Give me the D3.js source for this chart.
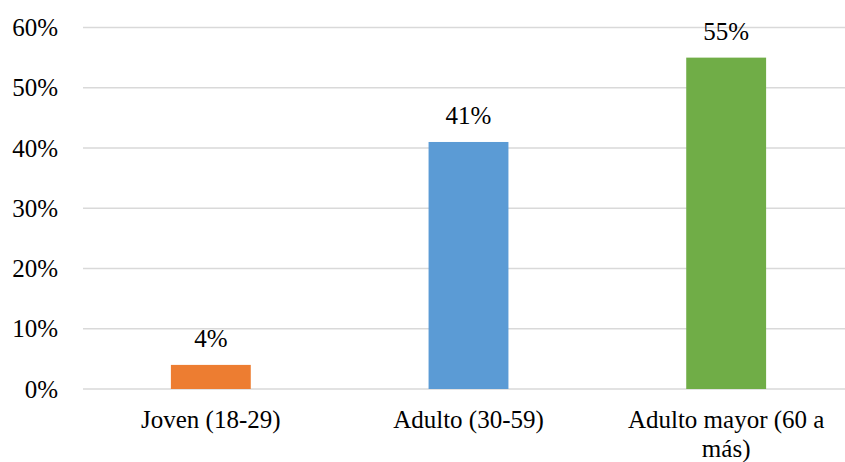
<!DOCTYPE html>
<html><head><meta charset="utf-8">
<script src="https://cdn.jsdelivr.net/npm/d3@7"></script>
</head><body style="margin:0">
<svg id="c" width="845" height="462"><style>.t{font-family:"Liberation Serif",Tinos,"Times New Roman",serif !important;font-size:25px;fill:#000}</style></svg>
<script>
const categories = ["Joven (18-29)", "Adulto (30-59)", "Adulto mayor (60 a más)"];
const values = [4, 41, 55];
const colors = ["#ED7D31", "#5B9BD5", "#70AD47"];
const yTicks = [0, 10, 20, 30, 40, 50, 60];

const svg = d3.select("#c");
const x = d3.scaleBand().domain(categories).range([82, 855]).paddingInner(0.69).paddingOuter(0.345);
const y = d3.scaleLinear().domain([0, 60]).range([389, 27.5]);

svg.append("g").selectAll("line").data(yTicks).join("line")
  .attr("x1", 83).attr("x2", 845)
  .attr("y1", d => y(d)).attr("y2", d => y(d))
  .attr("stroke", "#d9d9d9").attr("stroke-width", 1.5);

svg.append("g").selectAll("text").data(yTicks).join("text").attr("class", "t")
  .attr("x", 58).attr("y", d => y(d) + 8.5)
  .attr("text-anchor", "end").text(d => d + "%");

svg.append("g").selectAll("rect").data(values).join("rect")
  .attr("x", (d, i) => x(categories[i])).attr("width", x.bandwidth())
  .attr("y", d => y(d)).attr("height", d => y(0) - y(d))
  .attr("fill", (d, i) => colors[i]);

svg.append("g").selectAll("text").data(values).join("text").attr("class", "t")
  .attr("x", (d, i) => x(categories[i]) + x.bandwidth() / 2)
  .attr("y", d => y(d) - 18)
  .attr("text-anchor", "middle").text(d => d + "%");

const labelLines = [["Joven (18-29)"], ["Adulto (30-59)"], ["Adulto mayor (60 a", "más)"]];
const lg = svg.append("g");
categories.forEach((c, i) => {
  const t = lg.append("text").attr("class", "t")
    .attr("x", x(c) + x.bandwidth() / 2).attr("y", 428)
    .attr("text-anchor", "middle");
  labelLines[i].forEach((l, j) => {
    t.append("tspan").attr("x", x(c) + x.bandwidth() / 2).attr("dy", j === 0 ? 0 : 29).text(l);
  });
});
</script>
</body></html>
